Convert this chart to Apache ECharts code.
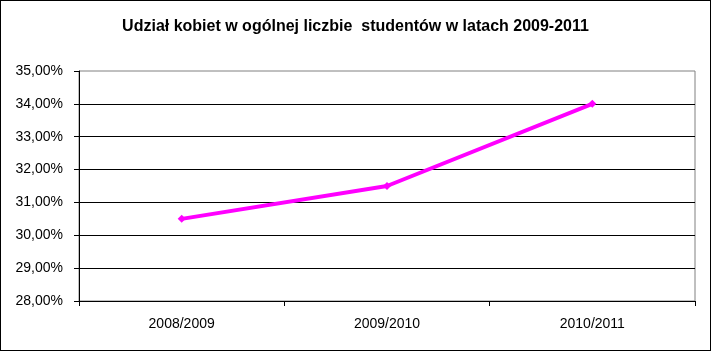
<!DOCTYPE html>
<html><head><meta charset="utf-8">
<script src="https://cdn.jsdelivr.net/npm/echarts@6/dist/echarts.min.js"></script>
<style>html,body{margin:0;padding:0;background:#fff}#c{width:711px;height:351px;box-sizing:border-box;border:1px solid #000}</style>
</head><body><div id="c"></div>
<script>
const titleText = 'Udział kobiet w ogólnej liczbie  studentów w latach 2009-2011';
const categories = ['2008/2009', '2009/2010', '2010/2011'];
const shareOfWomen = [30.5, 31.5, 34.0];
const yMin = 28, yMax = 35, yStep = 1;

const chart = echarts.init(document.getElementById('c'), null, {renderer: 'canvas'});
chart.setOption({
  animation: false,
  backgroundColor: '#fff',
  title: {
    text: titleText, left: 'center', top: 13,
    textStyle: {fontFamily: 'Liberation Sans, Arial', fontSize: 16, fontWeight: 'bold', color: '#000'}
  },
  grid: {left: 78, right: 15, top: 70, bottom: 49, show: true, borderColor: '#808080', borderWidth: 1},
  xAxis: {
    type: 'category', data: categories, boundaryGap: true,
    axisLine: {lineStyle: {color: '#000', width: 1}},
    axisTick: {show: true, length: 5, lineStyle: {color: '#000'}},
    axisLabel: {margin: 16, fontFamily: 'Liberation Sans, Arial', fontSize: 14, color: '#000'},
    splitLine: {show: false}
  },
  yAxis: {
    type: 'value', min: yMin, max: yMax, interval: yStep,
    axisLine: {show: true, lineStyle: {color: '#000', width: 1}},
    axisTick: {show: true, length: 5, lineStyle: {color: '#000'}},
    axisLabel: {margin: 16, fontFamily: 'Liberation Sans, Arial', fontSize: 14, color: '#000',
      formatter: v => v.toFixed(2).replace('.', ',') + '%'},
    splitLine: {show: true, showMaxLine: false, lineStyle: {color: '#000', width: 1}}
  },
  series: [{
    type: 'line', data: shareOfWomen,
    lineStyle: {color: '#FF00FF', width: 4},
    itemStyle: {color: '#FF00FF'},
    symbol: 'diamond', symbolSize: 8, showSymbol: true
  }]
});
</script></body></html>
